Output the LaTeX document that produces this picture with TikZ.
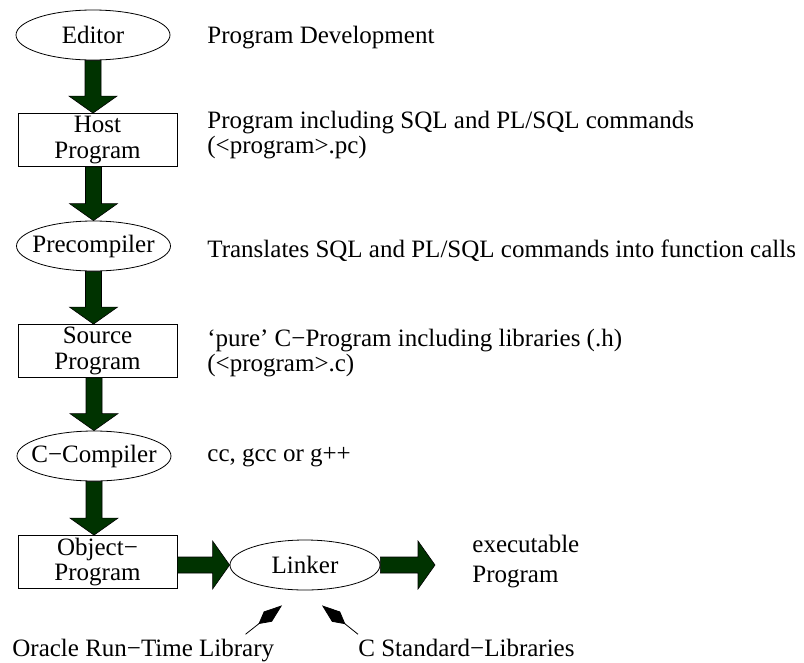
\documentclass[tikz,border=0pt]{standalone}
\usepackage{fontspec}
\setmainfont{Liberation Serif}
\usetikzlibrary{shapes.geometric,arrows.meta,calc}

\definecolor{pipegreen}{RGB}{0,51,0}
\tikzset{every picture/.style={line width=0.8pt}}

% thick filled arrow between two points
\newcommand{\fatarrow}[2]{%
  \coordinate (fs) at #1;
  \coordinate (fe) at #2;
  \coordinate (fh) at ($(fe)!17pt!(fs)$);
  \filldraw[fat] ($(fs)!8pt!90:(fe)$) -- ($(fh)!8pt!90:(fe)$) -- ($(fh)!24pt!90:(fe)$) -- (fe)
    -- ($(fh)!24pt!-90:(fe)$) -- ($(fh)!8pt!-90:(fe)$) -- ($(fs)!8pt!-90:(fe)$) -- cycle;}

\begin{document}
\begin{tikzpicture}[x=1pt, y=-1pt,
    every node/.style={font=\fontsize{25}{25}\selectfont},
    stage/.style={draw, ellipse, minimum width=154pt, minimum height=50pt, inner xsep=-12pt, inner ysep=0pt},
    file/.style={draw, rectangle, align=center, minimum width=159pt, minimum height=53pt, inner sep=0pt,
        font=\fontsize{25}{25.5}\selectfont},
    note/.style={anchor=base west, align=left, inner sep=0pt},
    fat/.style={fill=pipegreen, draw=black, line width=0.6pt},
    lib/.style={-{Kite[length=30pt, width=13pt, inset=12pt]}, line width=0.8pt}]
    \useasboundingbox (0,0) rectangle (804,662);

    % the chain
    \node[stage] (editor) at (93,35) {Editor};
    \node[file] (host) at (97.5,140) {Host\\Program};
    \node[stage] (precomp) at (93.5,246) {Precompiler};
    \node[file] (source) at (97.5,351) {Source\\Program};
    \node[stage] (ccomp) at (94,456) {C−Compiler};
    \node[file] (object) at (97.5,562) {Object−\\Program};
    \node[stage, minimum width=150pt] (linker) at (305,565) {Linker};
    \coordinate (exe) at (435,565);

    \fatarrow{(editor.south)}{(editor.south |- host.north)}
    \fatarrow{(precomp.north |- host.south)}{(precomp.north)}
    \fatarrow{(precomp.south)}{(precomp.south |- source.north)}
    \fatarrow{(ccomp.north |- source.south)}{(ccomp.north)}
    \fatarrow{(ccomp.south)}{(ccomp.south |- object.north)}
    \fatarrow{(object.east |- linker.west)}{(linker.west)}
    \fatarrow{(linker.east)}{(exe)}

    % comments on the right
    \node[note] (devnote) at (207,43) {Program Development};
    \node[note] (hostnote) at (207,153) {Program including SQL and PL/SQL commands\\(<program>.pc)};
    \node[note] (precompnote) at (207,257) {Translates SQL and PL/SQL commands into function calls};
    \node[note] (sourcenote) at (207,371) {‘pure’ C−Program including libraries (.h)\\(<program>.c)};
    \node[note] (ccompnote) at (207,461) {cc, gcc or g++};
    \node[note] (exenote) at (472,582) {executable\\[5pt]Program};

    % libraries
    \node[note] (oracle) at (12,656) {Oracle Run−Time Library};
    \node[note] (cstd) at (358,656) {C Standard−Libraries};
    \coordinate (oracletip) at ($(linker.south)+(-23,15)$);
    \coordinate (cstdtip) at ($(linker.south)+(17,15)$);
    \draw[lib] ($(oracle.north east)+(-29,-4)$) -- (oracletip);
    \draw[lib] ($(cstd.north west)+(0,-4)$) -- (cstdtip);
\end{tikzpicture}
\end{document}
